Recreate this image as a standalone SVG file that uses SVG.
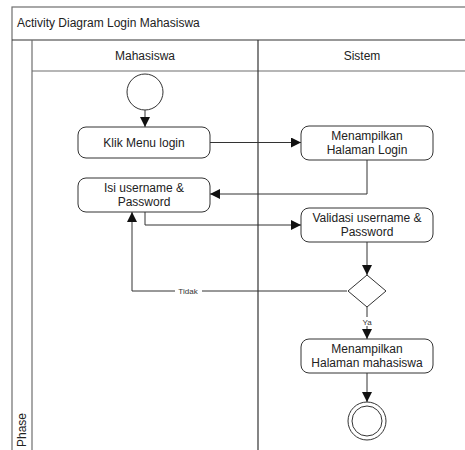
<svg xmlns="http://www.w3.org/2000/svg" width="465" height="450" viewBox="0 0 465 450">
  <style>
    .frame { fill: none; stroke: #6e6e6e; stroke-width: 1.2; }
    .divider { fill: none; stroke: #333; stroke-width: 1.2; }
    .act { fill: #fff; stroke: #333; stroke-width: 1; }
    .lbl { font-family: "Liberation Sans", "Open Sans", sans-serif; font-size: 12px; fill: #222; text-anchor: middle; }
    .title { font-family: "Liberation Sans", "Open Sans", sans-serif; font-size: 12px; fill: #222; }
    .guard { font-family: "Liberation Sans", sans-serif; font-size: 8px; fill: #333; text-anchor: middle; }
    .flow { fill: none; stroke: #333; stroke-width: 1; marker-end: url(#arrow); }
  </style>
  <defs>
    <marker id="arrow" viewBox="0 0 10 10" refX="10" refY="5" markerWidth="10" markerHeight="10" markerUnits="userSpaceOnUse" orient="auto">
      <path d="M0,0 L10,5 L0,10 z" fill="#111"/>
    </marker>
  </defs>
  <rect width="465" height="450" fill="#fff"/>

  <!-- swimlane frame -->
  <g id="frame">
    <rect class="frame" x="12" y="7" width="460" height="460"/>
    <line class="divider" x1="12" y1="40" x2="465" y2="40"/>
    <line class="frame" x1="32" y1="71" x2="465" y2="71"/>
    <line class="frame" x1="32" y1="40" x2="32" y2="450"/>
    <line class="divider" x1="258" y1="40" x2="258" y2="450"/>
    <text class="title" x="17" y="27">Activity Diagram Login Mahasiswa</text>
    <text class="lbl" x="145" y="60">Mahasiswa</text>
    <text class="lbl" x="362" y="60">Sistem</text>
    <text class="lbl" transform="translate(26,430) rotate(-90)">Phase</text>
  </g>

  <!-- connectors -->
  <g id="connectors">
    <path class="flow" d="M145,110 V127"/>
    <path class="flow" d="M210,142.5 H301"/>
    <path class="flow" d="M367,160 V194 H210"/>
    <path class="flow" d="M145,212 V225 H301"/>
    <path class="flow" d="M367,242 V275"/>
    <path class="flow" d="M347,291 H132 V212"/>
    <path class="flow" d="M367,307 V339"/>
    <path class="flow" d="M367,373 V402"/>
    <rect x="175" y="287" width="27" height="8" fill="#fff"/>
    <text class="guard" x="188" y="294">Tidak</text>
    <rect x="360" y="317" width="14" height="9" fill="#fff"/>
    <text class="guard" x="367" y="324.5">Ya</text>
  </g>

  <g id="start">
    <circle class="act" cx="145" cy="92" r="18"/>
  </g>

  <g id="klik-menu-login">
    <rect class="act" x="78" y="127" width="132" height="31" rx="8"/>
    <text class="lbl" x="144" y="147">Klik Menu login</text>
  </g>

  <g id="menampilkan-halaman-login">
    <rect class="act" x="301" y="126" width="132" height="34" rx="8"/>
    <text class="lbl" x="367" y="140">Menampilkan</text>
    <text class="lbl" x="367" y="154">Halaman Login</text>
  </g>

  <g id="isi-username">
    <rect class="act" x="78" y="178" width="132" height="34" rx="8"/>
    <text class="lbl" x="144" y="192">Isi username &amp;</text>
    <text class="lbl" x="144" y="206">Password</text>
  </g>

  <g id="validasi">
    <rect class="act" x="301" y="208" width="132" height="34" rx="8"/>
    <text class="lbl" x="367" y="222">Validasi username &amp;</text>
    <text class="lbl" x="367" y="236">Password</text>
  </g>

  <g id="decision">
    <polygon class="act" points="367,275 386,291 367,307 348,291"/>
  </g>

  <g id="menampilkan-halaman-mahasiswa">
    <rect class="act" x="301" y="339" width="132" height="34" rx="8"/>
    <text class="lbl" x="367" y="353">Menampilkan</text>
    <text class="lbl" x="367" y="367">Halaman mahasiswa</text>
  </g>

  <g id="end">
    <circle class="act" cx="367" cy="421" r="19"/>
    <circle class="act" cx="367" cy="421" r="15"/>
  </g>
</svg>
